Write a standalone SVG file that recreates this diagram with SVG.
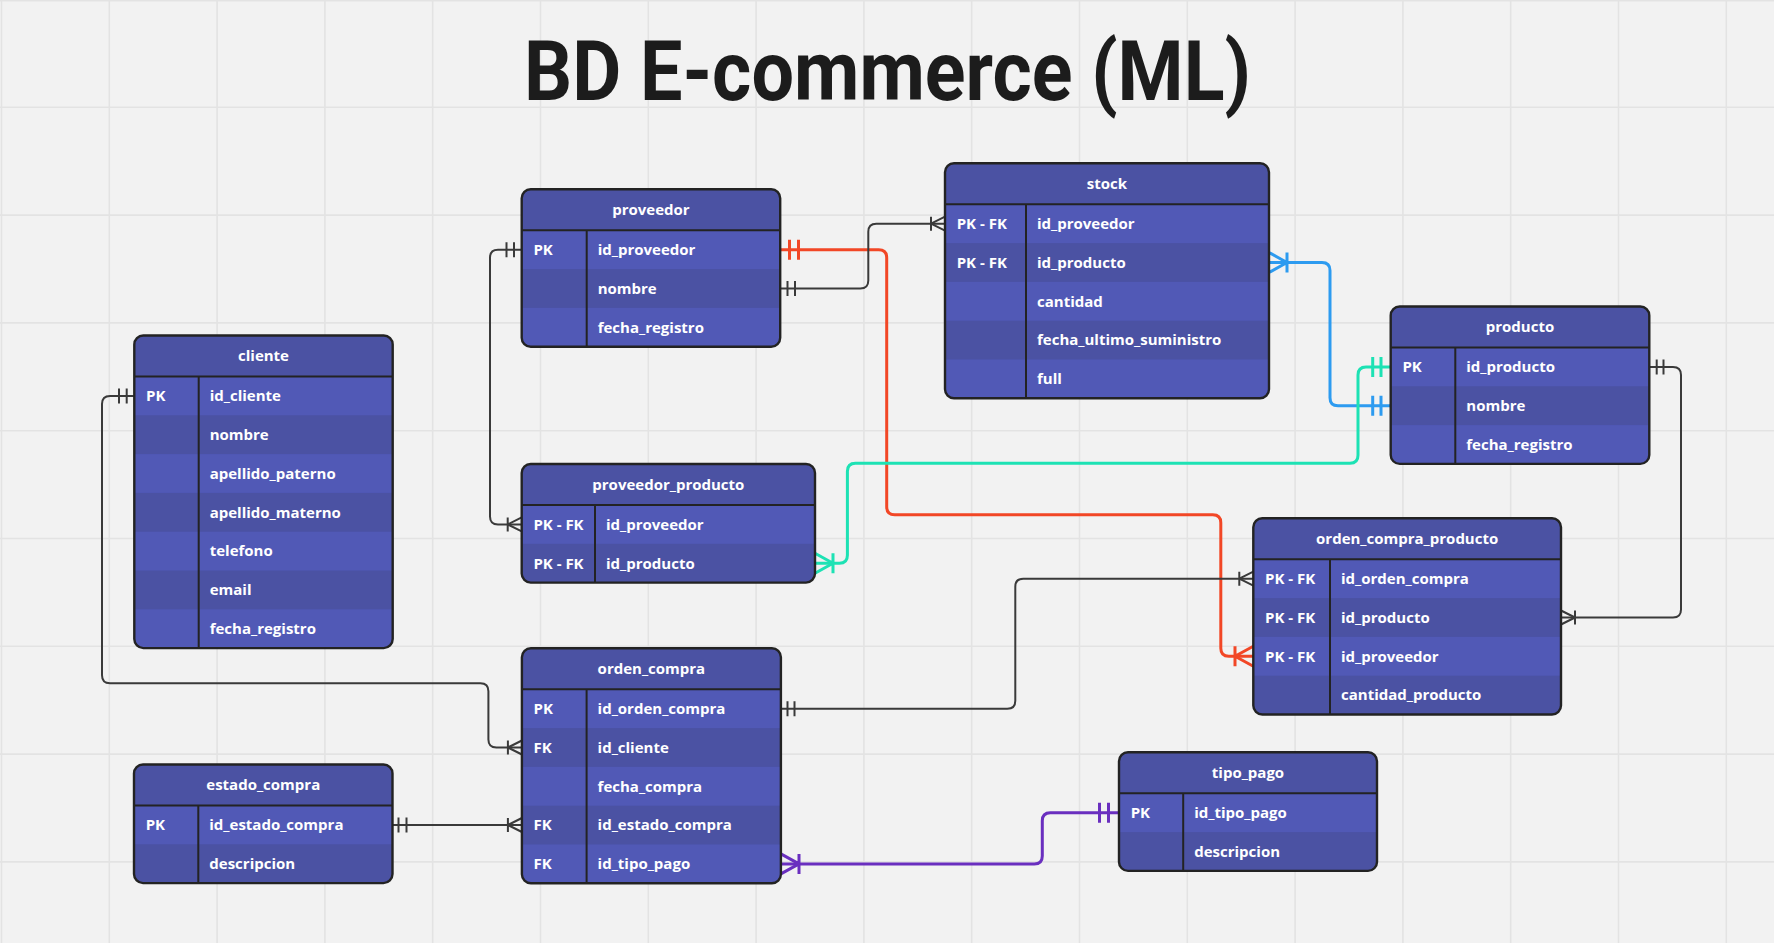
<svg xmlns="http://www.w3.org/2000/svg" width="1774" height="943" viewBox="0 0 1774 943">
<style>
.bg{fill:#f2f2f2}
.grid{stroke:#e3e3e3;stroke-width:1.6;fill:none}
.hdr{fill:#4b52a3}
.rl{fill:#5159b6}
.rd{fill:#4b52a3}
.frame{fill:none;stroke:#232323;stroke-width:2.4}
.sep{stroke:#232323;stroke-width:2}
.t{font-family:"Open Sans","Noto Sans","DejaVu Sans",sans-serif;font-weight:700;font-size:15px;fill:#ffffff}
.th{text-anchor:middle}
.title{font-family:Roboto,"Liberation Sans",sans-serif;font-weight:700;font-size:84px;fill:#1c1c1c}
.c{fill:none;stroke-linecap:butt;stroke-linejoin:round}
.dk{stroke:#3a3a3a;stroke-width:2}
.red{stroke:#f24726;stroke-width:3}
.blue{stroke:#2d9bf0;stroke-width:3}
.teal{stroke:#1de2b4;stroke-width:3}
.purp{stroke:#6a2fbf;stroke-width:3}
</style>
<defs>
<clipPath id="cp-proveedor"><rect x="521.7" y="189.3" width="258.5" height="157.4" rx="9"/></clipPath>
<clipPath id="cp-stock"><rect x="945" y="163.3" width="324" height="235" rx="9"/></clipPath>
<clipPath id="cp-producto"><rect x="1390.7" y="306.5" width="258.6" height="157.4" rx="9"/></clipPath>
<clipPath id="cp-cliente"><rect x="134.3" y="335.5" width="258.4" height="312.6" rx="9"/></clipPath>
<clipPath id="cp-pp"><rect x="521.7" y="464" width="293.3" height="118.6" rx="9"/></clipPath>
<clipPath id="cp-ocp"><rect x="1253.3" y="518.3" width="307.7" height="196.2" rx="9"/></clipPath>
<clipPath id="cp-oc"><rect x="521.9" y="648.3" width="259" height="235" rx="9"/></clipPath>
<clipPath id="cp-estado"><rect x="134" y="764.5" width="258.5" height="118.6" rx="9"/></clipPath>
<clipPath id="cp-tipo"><rect x="1119" y="752.3" width="258" height="118.6" rx="9"/></clipPath>
</defs>
<rect class="bg" x="0" y="0" width="1774" height="943"/>
<path class="grid" d="M1.5 0V943M109.3 0V943M217.1 0V943M324.9 0V943M432.7 0V943M540.5 0V943M648.3 0V943M756.1 0V943M863.9 0V943M971.7 0V943M1079.5 0V943M1187.3 0V943M1295.1 0V943M1402.9 0V943M1510.7 0V943M1618.5 0V943M1726.3 0V943M0 0.8H1774M0 107.3H1774M0 215.1H1774M0 322.9H1774M0 430.7H1774M0 538.5H1774M0 646.3H1774M0 754.1H1774M0 861.9H1774"/>
<text class="title" x="524" y="100" textLength="727" lengthAdjust="spacingAndGlyphs">BD E-commerce (ML)</text>

<g id="connectors">
<path class="c red" d="M780.2 249.7H878.7Q886.7 249.7 886.7 257.7V506.8Q886.7 514.8 894.7 514.8H1212.8Q1220.8 514.8 1220.8 522.8V648.3Q1220.8 656.3 1228.8 656.3H1253.3"/>
<path class="c red" d="M789.5 239.7V259.7M798.5 239.7V259.7M1235 646.3V666.3M1253.3 646.3L1235 656.3L1253.3 666.3"/>
<path class="c dk" d="M780.2 288.5H860.3Q868.3 288.5 868.3 280.5V231.7Q868.3 223.7 876.3 223.7H945"/>
<path class="c dk" d="M787.5 281V296M795 281V296M931 216.7V230.7M945 216.7L931 223.7L945 230.7"/>
<path class="c dk" d="M521.7 249.7H498Q490 249.7 490 257.7V516.4Q490 524.4 498 524.4H521.7"/>
<path class="c dk" d="M506.5 242.2V257.2M514 242.2V257.2M507.7 517.4V531.4M521.7 517.4L507.7 524.4L521.7 531.4"/>
<path class="c blue" d="M1269 262.5H1322Q1330 262.5 1330 270.5V397.7Q1330 405.7 1338 405.7H1390.7"/>
<path class="c blue" d="M1287 252.5V272.5M1269 252.5L1287 262.5L1269 272.5M1372.7 395.7V415.7M1381 395.7V415.7"/>
<path class="c teal" d="M1390.7 366.9H1366Q1358 366.9 1358 374.9V455.3Q1358 463.3 1350 463.3H855.4Q847.4 463.3 847.4 471.3V555.2Q847.4 563.2 839.4 563.2H815"/>
<path class="c teal" d="M1372.7 356.9V376.9M1381 356.9V376.9M833 553.2V573.2M815 553.2L833 563.2L815 573.2"/>
<path class="c dk" d="M1649.3 366.9H1673Q1681 366.9 1681 374.9V609.5Q1681 617.5 1673 617.5H1561"/>
<path class="c dk" d="M1656.7 359.4V374.4M1663.5 359.4V374.4M1575 610.5V624.5M1561 610.5L1575 617.5L1561 624.5"/>
<path class="c dk" d="M780.9 708.7H1007.3Q1015.3 708.7 1015.3 700.7V586.7Q1015.3 578.7 1023.3 578.7H1253.3"/>
<path class="c dk" d="M787.5 701.2V716.2M794.5 701.2V716.2M1239.3 571.7V585.7M1253.3 571.7L1239.3 578.7L1253.3 585.7"/>
<path class="c dk" d="M134.3 395.9H110Q102 395.9 102 403.9V675.3Q102 683.3 110 683.3H480.4Q488.4 683.3 488.4 691.3V739.5Q488.4 747.5 496.4 747.5H521.9"/>
<path class="c dk" d="M119 388.4V403.4M126.7 388.4V403.4M507.9 740.5V754.5M521.9 740.5L507.9 747.5L521.9 754.5"/>
<path class="c dk" d="M392.5 825H521.9"/>
<path class="c dk" d="M398.5 817.5V832.5M406.5 817.5V832.5M507.9 818V832M521.9 818L507.9 825L521.9 832"/>
<path class="c purp" d="M1119 812.7H1050.3Q1042.3 812.7 1042.3 820.7V855.9Q1042.3 863.9 1034.3 863.9H780.9"/>
<path class="c purp" d="M1099.5 802.7V822.7M1108.5 802.7V822.7M799 853.9V873.9M780.9 853.9L799 863.9L780.9 873.9"/>
</g>

<g id="proveedor">
<g clip-path="url(#cp-proveedor)">
<rect class="rl" x="521.7" y="189.3" width="258.5" height="157.4"/>
<rect class="hdr" x="521.7" y="189.3" width="258.5" height="41"/>
<rect class="rd" x="521.7" y="269.1" width="258.5" height="38.8"/>
</g>
<path class="sep" d="M521.7 230.3H780.2M586.7 230.3V346.7"/>
<rect class="frame" x="521.7" y="189.3" width="258.5" height="157.4" rx="9"/>
<text class="t th" x="650.95" y="215.3">proveedor</text>
<text class="t" x="533.4" y="255">PK</text>
<text class="t" x="597.7" y="255">id_proveedor</text>
<text class="t" x="597.7" y="293.8">nombre</text>
<text class="t" x="597.7" y="332.6">fecha_registro</text>
</g>

<g id="stock">
<g clip-path="url(#cp-stock)">
<rect class="rl" x="945" y="163.3" width="324" height="235"/>
<rect class="hdr" x="945" y="163.3" width="324" height="41"/>
<rect class="rd" x="945" y="243.1" width="324" height="38.8"/>
<rect class="rd" x="945" y="320.7" width="324" height="38.8"/>
</g>
<path class="sep" d="M945 204.3H1269M1026 204.3V398.3"/>
<rect class="frame" x="945" y="163.3" width="324" height="235" rx="9"/>
<text class="t th" x="1107" y="189.1">stock</text>
<text class="t" x="956.7" y="229">PK - FK</text>
<text class="t" x="1037" y="229">id_proveedor</text>
<text class="t" x="956.7" y="267.8">PK - FK</text>
<text class="t" x="1037" y="267.8">id_producto</text>
<text class="t" x="1037" y="306.6">cantidad</text>
<text class="t" x="1037" y="345.4">fecha_ultimo_suministro</text>
<text class="t" x="1037" y="384.2">full</text>
</g>

<g id="producto">
<g clip-path="url(#cp-producto)">
<rect class="rl" x="1390.7" y="306.5" width="258.6" height="157.4"/>
<rect class="hdr" x="1390.7" y="306.5" width="258.6" height="41"/>
<rect class="rd" x="1390.7" y="386.3" width="258.6" height="38.8"/>
</g>
<path class="sep" d="M1390.7 347.5H1649.3M1455.3 347.5V463.9"/>
<rect class="frame" x="1390.7" y="306.5" width="258.6" height="157.4" rx="9"/>
<text class="t th" x="1520" y="332.3">producto</text>
<text class="t" x="1402.4" y="372.2">PK</text>
<text class="t" x="1466.3" y="372.2">id_producto</text>
<text class="t" x="1466.3" y="411">nombre</text>
<text class="t" x="1466.3" y="449.8">fecha_registro</text>
</g>

<g id="cliente">
<g clip-path="url(#cp-cliente)">
<rect class="rl" x="134.3" y="335.5" width="258.4" height="312.6"/>
<rect class="hdr" x="134.3" y="335.5" width="258.4" height="41"/>
<rect class="rd" x="134.3" y="415.3" width="258.4" height="38.8"/>
<rect class="rd" x="134.3" y="492.9" width="258.4" height="38.8"/>
<rect class="rd" x="134.3" y="570.5" width="258.4" height="38.8"/>
</g>
<path class="sep" d="M134.3 376.5H392.7M198.7 376.5V648.1"/>
<rect class="frame" x="134.3" y="335.5" width="258.4" height="312.6" rx="9"/>
<text class="t th" x="263.5" y="361.3">cliente</text>
<text class="t" x="146" y="401.2">PK</text>
<text class="t" x="209.7" y="401.2">id_cliente</text>
<text class="t" x="209.7" y="440">nombre</text>
<text class="t" x="209.7" y="478.8">apellido_paterno</text>
<text class="t" x="209.7" y="517.6">apellido_materno</text>
<text class="t" x="209.7" y="556.4">telefono</text>
<text class="t" x="209.7" y="595.2">email</text>
<text class="t" x="209.7" y="634">fecha_registro</text>
</g>

<g id="proveedor_producto">
<g clip-path="url(#cp-pp)">
<rect class="rl" x="521.7" y="464" width="293.3" height="118.6"/>
<rect class="hdr" x="521.7" y="464" width="293.3" height="41"/>
<rect class="rd" x="521.7" y="543.8" width="293.3" height="38.8"/>
</g>
<path class="sep" d="M521.7 505H815M595 505V582.6"/>
<rect class="frame" x="521.7" y="464" width="293.3" height="118.6" rx="9"/>
<text class="t th" x="668.35" y="489.8">proveedor_producto</text>
<text class="t" x="533.4" y="529.7">PK - FK</text>
<text class="t" x="606" y="529.7">id_proveedor</text>
<text class="t" x="533.4" y="568.5">PK - FK</text>
<text class="t" x="606" y="568.5">id_producto</text>
</g>

<g id="orden_compra_producto">
<g clip-path="url(#cp-ocp)">
<rect class="rl" x="1253.3" y="518.3" width="307.7" height="196.2"/>
<rect class="hdr" x="1253.3" y="518.3" width="307.7" height="41"/>
<rect class="rd" x="1253.3" y="598.1" width="307.7" height="38.8"/>
<rect class="rd" x="1253.3" y="675.7" width="307.7" height="38.8"/>
</g>
<path class="sep" d="M1253.3 559.3H1561M1330 559.3V714.5"/>
<rect class="frame" x="1253.3" y="518.3" width="307.7" height="196.2" rx="9"/>
<text class="t th" x="1407.15" y="544.1">orden_compra_producto</text>
<text class="t" x="1265" y="584">PK - FK</text>
<text class="t" x="1341" y="584">id_orden_compra</text>
<text class="t" x="1265" y="622.8">PK - FK</text>
<text class="t" x="1341" y="622.8">id_producto</text>
<text class="t" x="1265" y="661.6">PK - FK</text>
<text class="t" x="1341" y="661.6">id_proveedor</text>
<text class="t" x="1341" y="700.4">cantidad_producto</text>
</g>

<g id="orden_compra">
<g clip-path="url(#cp-oc)">
<rect class="rl" x="521.9" y="648.3" width="259" height="235"/>
<rect class="hdr" x="521.9" y="648.3" width="259" height="41"/>
<rect class="rd" x="521.9" y="728.1" width="259" height="38.8"/>
<rect class="rd" x="521.9" y="805.7" width="259" height="38.8"/>
</g>
<path class="sep" d="M521.9 689.3H780.9M586.6 689.3V883.3"/>
<rect class="frame" x="521.9" y="648.3" width="259" height="235" rx="9"/>
<text class="t th" x="651.4" y="674.1">orden_compra</text>
<text class="t" x="533.6" y="714">PK</text>
<text class="t" x="597.6" y="714">id_orden_compra</text>
<text class="t" x="533.6" y="752.8">FK</text>
<text class="t" x="597.6" y="752.8">id_cliente</text>
<text class="t" x="597.6" y="791.6">fecha_compra</text>
<text class="t" x="533.6" y="830.4">FK</text>
<text class="t" x="597.6" y="830.4">id_estado_compra</text>
<text class="t" x="533.6" y="869.2">FK</text>
<text class="t" x="597.6" y="869.2">id_tipo_pago</text>
</g>

<g id="estado_compra">
<g clip-path="url(#cp-estado)">
<rect class="rl" x="134" y="764.5" width="258.5" height="118.6"/>
<rect class="hdr" x="134" y="764.5" width="258.5" height="41"/>
<rect class="rd" x="134" y="844.3" width="258.5" height="38.8"/>
</g>
<path class="sep" d="M134 805.5H392.5M198.3 805.5V883.1"/>
<rect class="frame" x="134" y="764.5" width="258.5" height="118.6" rx="9"/>
<text class="t th" x="263.25" y="790.3">estado_compra</text>
<text class="t" x="145.7" y="830.2">PK</text>
<text class="t" x="209.3" y="830.2">id_estado_compra</text>
<text class="t" x="209.3" y="869">descripcion</text>
</g>

<g id="tipo_pago">
<g clip-path="url(#cp-tipo)">
<rect class="rl" x="1119" y="752.3" width="258" height="118.6"/>
<rect class="hdr" x="1119" y="752.3" width="258" height="41"/>
<rect class="rd" x="1119" y="832.1" width="258" height="38.8"/>
</g>
<path class="sep" d="M1119 793.3H1377M1183.2 793.3V870.9"/>
<rect class="frame" x="1119" y="752.3" width="258" height="118.6" rx="9"/>
<text class="t th" x="1248" y="778.1">tipo_pago</text>
<text class="t" x="1130.7" y="818">PK</text>
<text class="t" x="1194.2" y="818">id_tipo_pago</text>
<text class="t" x="1194.2" y="856.8">descripcion</text>
</g>
</svg>
